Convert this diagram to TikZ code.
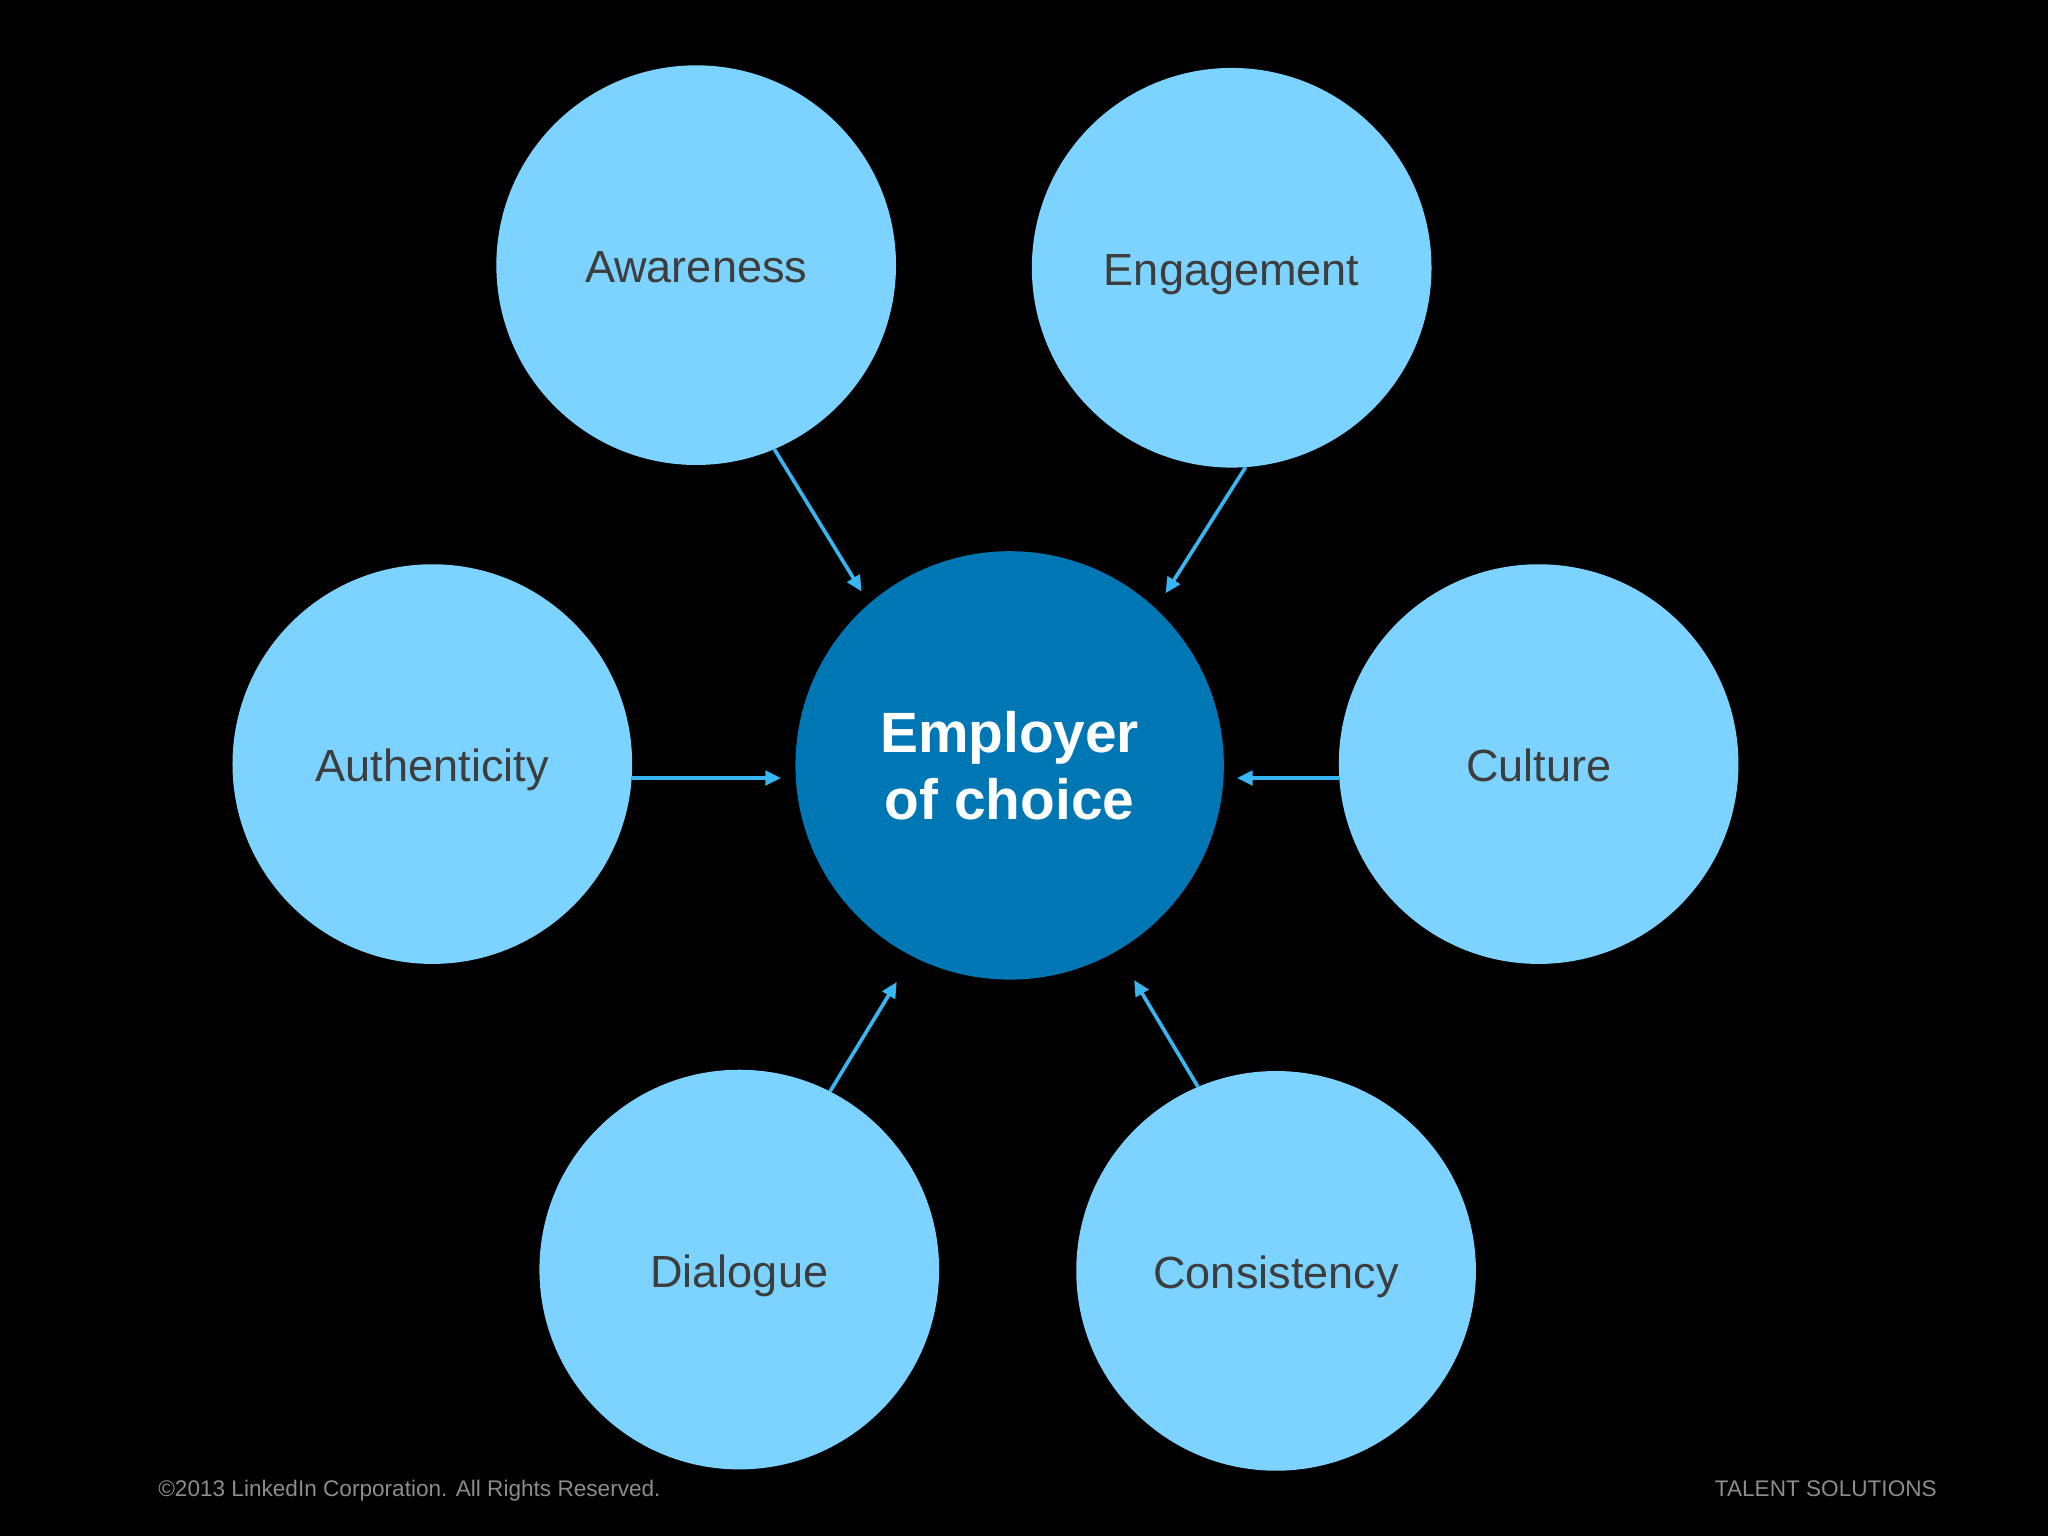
\documentclass[tikz,border=0pt]{standalone}
\usepackage{fontspec}
\setmainfont{Liberation Sans}
\usetikzlibrary{arrows.meta}
\definecolor{lightc}{HTML}{7DD3FF}
\definecolor{corec}{HTML}{0077B5}
\definecolor{arrowc}{HTML}{38B6F2}
\definecolor{txtc}{HTML}{3D3D3D}
\definecolor{footc}{HTML}{8C8C8C}
\begin{document}
\begin{tikzpicture}[x=1pt,y=-1pt,
  outer/.style={circle, fill=lightc, minimum size=306pt, inner sep=0pt, outer sep=0pt, text=txtc, text height=27pt, text depth=0pt, font=\fontsize{34.5}{40}\selectfont},
  core/.style={circle, fill=corec, minimum size=328pt, inner sep=0pt, outer sep=0pt, text=white, align=center, font=\fontsize{43.5}{51}\selectfont\bfseries},
  link/.style={draw=arrowc, line width=2.8pt, -{Triangle[length=12pt,width=11pt]}},
  foot/.style={text=footc, font=\fontsize{17.3}{20}\selectfont, inner sep=0pt}]
\fill[black] (0,0) rectangle (1568,1176);
\useasboundingbox (0,0) rectangle (1568,1176);

\node[core] (emp) at (773,586) {Employer\\of choice};
\node[outer] (aw) at (533,203) {Awareness};
\node[outer] (en) at (943,205) {Engagement};
\node[outer] (au) at (331,585) {Authenticity};
\node[outer] (cu) at (1178,585) {Culture};
\node[outer] (di) at (566,972) {Dialogue};
\node[outer] (co) at (977,973) {Consistency};

\draw[link, shorten >=11pt] (aw.-67.8) -- (emp.131.5);
\draw[link, shorten >=14pt] (en.-86.6) -- (emp.47.5);
\draw[link, shorten >=11pt] (au.-4.4) -- (au.-4.4 -| emp.west);
\draw[link, shorten >=10pt] (cu.-176.3) -- (cu.-176.3 -| emp.east);
\draw[link, shorten >=23pt] (di.63.6) -- (emp.-117.4);
\draw[link, shorten >=26pt] (co.113.7) -- (emp.-60.7);

\node[foot, anchor=base west] (copy) at (121,1146) {©2013 LinkedIn Corporation. All Rights Reserved.};
\node[foot, anchor=base east] (talent) at (1483,1146) {TALENT SOLUTIONS};
\end{tikzpicture}
\end{document}
